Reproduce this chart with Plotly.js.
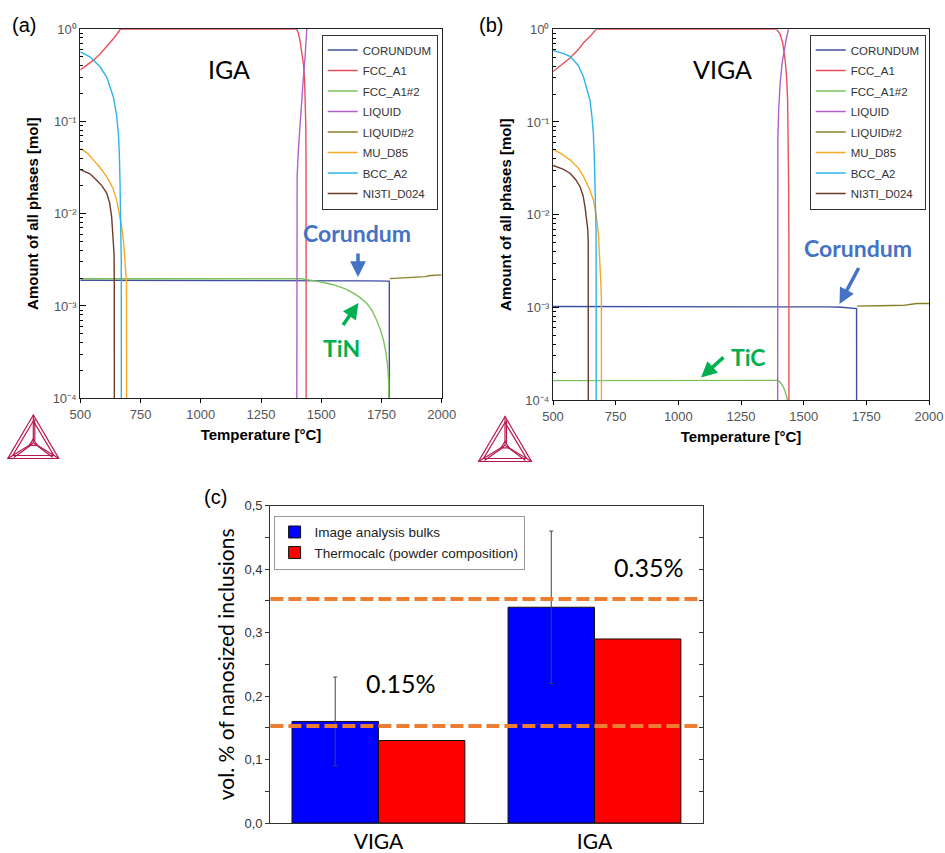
<!DOCTYPE html>
<html><head><meta charset="utf-8">
<script src="https://cdn.plot.ly/plotly-3.0.1.min.js"></script>
<style>body{margin:0;background:#fff}#chart{width:945px;height:853px}</style>
</head><body><div id="chart"></div>
<script>
// ---------- phase names / colours ----------
const phaseNames  = ['CORUNDUM','FCC_A1','FCC_A1#2','LIQUID','LIQUID#2','MU_D85','BCC_A2','NI3TI_D024'];
const phaseColors = ['#3f4ea1','#e8505b','#7cc35e','#b35fcc','#8c7f2b','#f9a825','#2db4ea','#6e3b2b'];

// ---------- panel (a) IGA : temperature [°C] / amount [mol] ----------
const igaCorundumT = [500, 1000, 1400, 1600, 1700, 1780, 1782.5, 1783];
const igaCorundumY = [1.9e-3, 1.9e-3, 1.89e-3, 1.88e-3, 1.87e-3, 1.86e-3, 1.85e-3, 1e-5];
const igaFccT = [500, 530, 555, 580, 610, 640, 667, 700, 1000, 1398, 1405, 1412, 1419, 1426, 1431, 1434, 1436, 1437, 1437.5];
const igaFccY = [0.36, 0.41, 0.46, 0.53, 0.65, 0.8, 1.0, 0.999, 0.998, 0.998, 0.9, 0.75, 0.59, 0.42, 0.28, 0.17, 0.09, 0.03, 1e-5];
const igaFcc2T = [500, 700, 1000, 1300, 1400, 1420, 1440, 1500, 1550, 1600, 1633, 1660, 1689, 1710, 1730, 1745, 1758, 1768, 1776, 1780, 1783];
const igaFcc2Y = [1.97e-3, 1.97e-3, 1.98e-3, 2.0e-3, 2.0e-3, 1.97e-3, 1.93e-3, 1.82e-3, 1.7e-3, 1.53e-3, 1.38e-3, 1.24e-3, 1.07e-3, 9.0e-4, 7.0e-4, 5.6e-4, 4.3e-4, 3.2e-4, 2.2e-4, 1.5e-4, 1e-5];
const igaLiqT = [1398, 1398, 1400, 1405, 1412, 1419, 1426, 1433, 1440];
const igaLiqY = [1e-5, 0.011, 0.025, 0.049, 0.095, 0.17, 0.3, 0.5, 1.0];
const igaLiq2T = [1784, 1800, 1850, 1900, 1930, 1955, 1975, 2000];
const igaLiq2Y = [1.98e-3, 1.99e-3, 2.0e-3, 2.03e-3, 2.08e-3, 2.14e-3, 2.16e-3, 2.17e-3];
const igaMuT = [500, 530, 555, 580, 610, 635, 651, 663, 672, 680, 686, 690, 691.5, 692.5];
const igaMuY = [0.051, 0.045, 0.038, 0.032, 0.025, 0.019, 0.014, 0.010, 0.0072, 0.0048, 0.0032, 0.0022, 0.0018, 1e-5];
const igaBccT = [500, 540, 582, 610, 637, 650, 658, 662, 665, 667, 669, 670, 670.5];
const igaBccY = [0.567, 0.5, 0.39, 0.3, 0.185, 0.12, 0.074, 0.045, 0.021, 0.012, 0.0063, 0.003, 1e-5];
const igaNi3tiT = [500, 540, 568, 590, 610, 622, 630, 636, 640, 641, 641.5];
const igaNi3tiY = [0.030, 0.027, 0.023, 0.020, 0.0166, 0.013, 0.0093, 0.006, 0.0037, 0.002, 1e-5];

// ---------- panel (b) VIGA ----------
const vigaCorundumT = [500, 1000, 1400, 1600, 1650, 1700, 1711, 1711.5];
const vigaCorundumY = [1.02e-3, 1.02e-3, 1.02e-3, 1.01e-3, 1.0e-3, 0.98e-3, 0.97e-3, 1e-5];
const vigaFccT = [500, 530, 568, 600, 621, 650, 672, 700, 1000, 1392, 1405, 1416, 1426, 1432, 1436, 1438, 1440, 1441, 1441.5];
const vigaFccY = [0.35, 0.41, 0.49, 0.6, 0.71, 0.85, 1.0, 0.999, 0.998, 0.998, 0.9, 0.72, 0.47, 0.3, 0.17, 0.08, 0.02, 0.005, 1e-5];
const vigaFcc2T = [500, 800, 1100, 1300, 1395, 1405, 1412, 1419, 1425, 1430, 1433, 1436, 1437];
const vigaFcc2Y = [1.62e-4, 1.62e-4, 1.63e-4, 1.64e-4, 1.63e-4, 1.57e-4, 1.48e-4, 1.38e-4, 1.26e-4, 1.15e-4, 1.07e-4, 1.0e-4, 1e-5];
const vigaLiqT = [1396, 1396, 1397, 1400, 1406, 1415, 1426, 1433, 1440];
const vigaLiqY = [1e-5, 0.03, 0.064, 0.13, 0.26, 0.45, 0.7, 0.85, 1.0];
const vigaLiq2T = [1712, 1750, 1800, 1850, 1898, 1930, 1951, 1975, 2000];
const vigaLiq2Y = [1.03e-3, 1.04e-3, 1.04e-3, 1.045e-3, 1.05e-3, 1.08e-3, 1.1e-3, 1.1e-3, 1.1e-3];
const vigaMuT = [500, 535, 568, 600, 621, 645, 661, 672, 681, 687, 691, 693, 693.5];
const vigaMuY = [0.051, 0.045, 0.039, 0.032, 0.026, 0.019, 0.0144, 0.01, 0.0063, 0.0035, 0.0018, 0.0012, 1e-5];
const vigaBccT = [500, 540, 568, 600, 621, 638, 648, 656, 661, 665, 668, 670, 672, 672.5];
const vigaBccY = [0.59, 0.55, 0.51, 0.41, 0.31, 0.22, 0.17, 0.11, 0.075, 0.04, 0.022, 0.011, 0.0063, 1e-5];
const vigaNi3tiT = [500, 540, 568, 590, 608, 620, 628, 634, 639, 640.5, 641];
const vigaNi3tiY = [0.034, 0.031, 0.028, 0.024, 0.02, 0.016, 0.012, 0.009, 0.0068, 0.005, 1e-5];

// ---------- axis ticks (a),(b) ----------
const tempTicks = [500, 750, 1000, 1250, 1500, 1750, 2000];
const logTickVals = [1e-4, 1e-3, 1e-2, 1e-1, 1];
const logTickText = ['10\u207B\u2074', '10\u207B\u00B3', '10\u207B\u00B2', '10\u207B\u00B9', '10\u2070'];

// ---------- panel (c) ----------
const barCategories = ['VIGA', 'IGA'];
const imageAnalysis = [0.16, 0.34];
const imageAnalysisErr = [0.07, 0.12];
const thermocalc = [0.13, 0.29];
const refLevels = [0.153, 0.353];
const volTickVals = [0, 0.1, 0.2, 0.3, 0.4, 0.5];
const volTickText = ['0,0', '0,1', '0,2', '0,3', '0,4', '0,5'];

// ---------- build ----------
const W = 945, H = 853;
const px = x => x / W, py = y => 1 - y / H;

const logMinor = [];
for (let d = -4; d < 0; d++) for (let k = 2; k <= 9; k++) logMinor.push(k * Math.pow(10, d));

const igaSeries = [[igaCorundumT, igaCorundumY],[igaFccT, igaFccY],[igaFcc2T, igaFcc2Y],[igaLiqT, igaLiqY],
  [igaLiq2T, igaLiq2Y],[igaMuT, igaMuY],[igaBccT, igaBccY],[igaNi3tiT, igaNi3tiY]];
const vigaSeries = [[vigaCorundumT, vigaCorundumY],[vigaFccT, vigaFccY],[vigaFcc2T, vigaFcc2Y],[vigaLiqT, vigaLiqY],
  [vigaLiq2T, vigaLiq2Y],[vigaMuT, vigaMuY],[vigaBccT, vigaBccY],[vigaNi3tiT, vigaNi3tiY]];

const traces = [];
[[igaSeries, 'x', 'y', 'legend', 'a'], [vigaSeries, 'x2', 'y2', 'legend2', 'b']].forEach(([ser, xa, ya, lg, tag]) => {
  ser.forEach((s, i) => traces.push({
    type: 'scatter', mode: 'lines', x: s[0], y: s[1], xaxis: xa, yaxis: ya,
    name: phaseNames[i], legend: lg, legendgroup: tag + i,
    line: { color: phaseColors[i], width: 1.4 }, hoverinfo: 'x+y+name'
  }));
});

traces.push({
  type: 'bar', x: barCategories, y: imageAnalysis, name: 'Image analysis bulks',
  xaxis: 'x3', yaxis: 'y3', legend: 'legend3',
  marker: { color: '#0000ff', line: { color: '#111', width: 1 } },
  error_y: { type: 'data', array: imageAnalysisErr, visible: true, color: '#444', thickness: 1, width: 2 }
});
traces.push({
  type: 'bar', x: barCategories, y: thermocalc, name: 'Thermocalc (powder composition)',
  xaxis: 'x3', yaxis: 'y3', legend: 'legend3',
  marker: { color: '#ff0000', line: { color: '#111', width: 1 } }
});

const tickFont = { family: 'Liberation Sans, Arial, sans-serif', size: 13, color: '#555' };
const boldTitle = (t) => ({ text: t, font: { family: 'Liberation Sans, Arial, sans-serif', size: 15, color: '#000', weight: 'bold' } });

function tempAxis(dom, anchor) {
  return { domain: dom, anchor: anchor, range: [500, 2000], tickmode: 'array', tickvals: tempTicks,
    ticks: 'outside', ticklen: 4, tickcolor: '#000', showline: true, linecolor: '#222', linewidth: 1, mirror: true,
    showgrid: false, zeroline: false, tickfont: tickFont, title: Object.assign(boldTitle('Temperature [°C]'), { standoff: 8 }) };
}
function amountAxis(dom, anchor) {
  return { domain: dom, anchor: anchor, type: 'log', range: [-4, 0], tickmode: 'array', tickvals: logTickVals, ticktext: logTickText,
    ticks: 'inside', ticklen: 6, tickcolor: '#000', showline: true, linecolor: '#222', linewidth: 1, mirror: true,
    minor: { tickmode: 'array', tickvals: logMinor, ticks: 'inside', ticklen: 3, tickcolor: '#000' },
    showgrid: false, zeroline: false, tickfont: tickFont, title: Object.assign(boldTitle('Amount of all phases [mol]'), { standoff: 10 }) };
}

const legendBase = { xanchor: 'left', yanchor: 'top', bgcolor: '#fff', bordercolor: '#333', borderwidth: 1,
  font: { family: 'Liberation Sans, Arial, sans-serif', size: 11.5, color: '#333' }, tracegroupgap: 1.5 };

// Thermo-Calc logo drawn as paper shapes
function P(x, y) { return px(x).toFixed(5) + ',' + py(y).toFixed(5); }
function logo(cx, top, bot, hw) {
  const oy = top + (bot - top) * 0.64;
  const col = '#b8194d';
  const paths = [
    'M' + P(cx, top) + 'L' + P(cx - hw, bot) + 'L' + P(cx + hw, bot) + 'Z',
    'M' + P(cx, top + 6) + 'L' + P(cx - hw + 5, bot - 3) + 'L' + P(cx + hw - 5, bot - 3) + 'Z',
    'M' + P(cx, top) + 'L' + P(cx, oy) + 'M' + P(cx - hw, bot) + 'L' + P(cx, oy) + 'M' + P(cx + hw, bot) + 'L' + P(cx, oy),
    'M' + P(cx + 1.5, top + 4) + 'L' + P(cx + 1.5, oy - 2) + 'M' + P(cx - hw + 6, bot - 1) + 'L' + P(cx - 1, oy + 1.5) + 'M' + P(cx + hw - 6, bot - 1) + 'L' + P(cx + 2, oy + 1.5),
    'M' + P(cx, oy - 4) + 'L' + P(cx - 4, oy + 2.5) + 'L' + P(cx + 4, oy + 2.5) + 'Z'
  ];
  return paths.map(p => ({ type: 'path', xref: 'paper', yref: 'paper', path: p, line: { color: col, width: 1.2 } }));
}

const shapes = [].concat(
  logo(33.3, 415, 458.5, 25.5),
  logo(505, 416.5, 461.5, 26.5),
  refLevels.map(v => ({ type: 'line', xref: 'x3 domain', x0: 0, x1: 1, yref: 'y3', y0: v, y1: v,
    line: { color: '#ed7d31', width: 4, dash: '13px,5px' } }))
);

const lato = 'Lato, Open Sans, sans-serif';
function ann(text, x, y, size, color, extra) {
  return Object.assign({ text: text, xref: 'paper', yref: 'paper', x: px(x), y: py(y), xanchor: 'center', yanchor: 'middle',
    showarrow: false, font: { family: lato, size: size, color: color } }, extra || {});
}
function arrow(hx, hy, tx, ty, color) {
  return { text: '', xref: 'paper', yref: 'paper', x: px(hx), y: py(hy), ax: tx - hx, ay: ty - hy,
    showarrow: true, arrowhead: 2, arrowsize: 0.9, arrowwidth: 3.5, arrowcolor: color, standoff: 0, startstandoff: 0 };
}
const blueTxt = '#4472c4', greenTxt = '#00b050';
const labelFont = { family: 'Liberation Sans, Arial', size: 20, color: '#000' };
const annotations = [
  ann('(a)', 23.5, 25, 20, '#000', { font: labelFont }),
  ann('(b)', 491, 25, 20, '#000', { font: labelFont }),
  ann('(c)', 215, 497, 20, '#000', { font: labelFont }),
  ann('IGA', 229, 69, 25, '#000'),
  ann('VIGA', 722, 69, 25, '#000'),
  ann('Corundum', 357, 233, 23, blueTxt, { font: { family: lato, size: 23, color: blueTxt, weight: 'bold' } }),
  ann('TiN', 341, 348, 23, greenTxt, { font: { family: lato, size: 23, color: greenTxt, weight: 'bold' } }),
  ann('Corundum', 858, 248, 23, blueTxt, { font: { family: lato, size: 23, color: blueTxt, weight: 'bold' } }),
  ann('TiC', 748, 357, 23, greenTxt, { font: { family: lato, size: 23, color: greenTxt, weight: 'bold' } }),
  arrow(358, 277, 358, 252, blueTxt),
  arrow(358.5, 303, 342, 326.5, greenTxt),
  arrow(839.5, 304, 859.5, 266.5, blueTxt),
  arrow(701, 377.5, 725, 356, greenTxt),
  ann('0.15%', 400, 683, 25, '#000'),
  ann('0.35%', 648, 567, 25, '#000')
];

const layout = {
  width: W, height: H, margin: { l: 0, r: 0, t: 0, b: 0 }, paper_bgcolor: '#fff', plot_bgcolor: '#fff',
  showlegend: true, barmode: 'group', bargap: 0.2, bargroupgap: 0,
  xaxis: tempAxis([px(80.3), px(441.7)], 'y'),
  yaxis: amountAxis([py(398.3), py(29)], 'x'),
  xaxis2: tempAxis([px(553), px(929)], 'y2'),
  yaxis2: amountAxis([py(400), py(29.3)], 'x2'),
  xaxis3: { domain: [px(270.4), px(702.5)], anchor: 'y3', type: 'category', range: [-0.5, 1.5],
    ticks: '', showline: true, linecolor: '#333', linewidth: 1.2, mirror: true, showgrid: false, zeroline: false,
    tickfont: { family: lato, size: 21, color: '#000' } },
  yaxis3: { domain: [py(823), py(505.7)], anchor: 'x3', range: [0, 0.5], tickmode: 'array', tickvals: volTickVals, ticktext: volTickText,
    ticks: 'outside', ticklen: 4, tickcolor: '#333', showline: true, linecolor: '#333', linewidth: 1.2, mirror: true,
    minor: { dtick: 0.05, ticks: 'outside', ticklen: 4, tickcolor: '#333' },
    showgrid: false, zeroline: false, tickfont: { family: 'Liberation Sans, Arial, sans-serif', size: 13, color: '#333' },
    title: { text: 'vol. % of nanosized inclusions', font: { family: lato, size: 21, color: '#000' }, standoff: 4 } },
  yaxis4: { overlaying: 'y3', anchor: 'x3', side: 'right', range: [0, 0.5], dtick: 0.05, ticks: 'inside', ticklen: 4,
    tickcolor: '#333', showticklabels: false, showline: false, showgrid: false, zeroline: false },
  legend: Object.assign({ x: px(321.7), y: py(34.5) }, legendBase),
  legend2: Object.assign({ x: px(809.7), y: py(34.5) }, legendBase),
  legend3: { x: px(273.6), y: py(515.7), xanchor: 'left', yanchor: 'top', bgcolor: '#fff', bordercolor: '#999', borderwidth: 1,
    font: { family: 'Liberation Sans, Arial, sans-serif', size: 13.5, color: '#222' } },
  shapes: shapes, annotations: annotations
};

// invisible trace bound to the right-hand tick axis of panel (c)
traces.push({ type: 'scatter', x: barCategories, y: thermocalc, xaxis: 'x3', yaxis: 'y4', mode: 'none',
  showlegend: false, hoverinfo: 'skip' });

Plotly.newPlot('chart', traces, layout, { displayModeBar: false, staticPlot: true });
</script></body></html>
